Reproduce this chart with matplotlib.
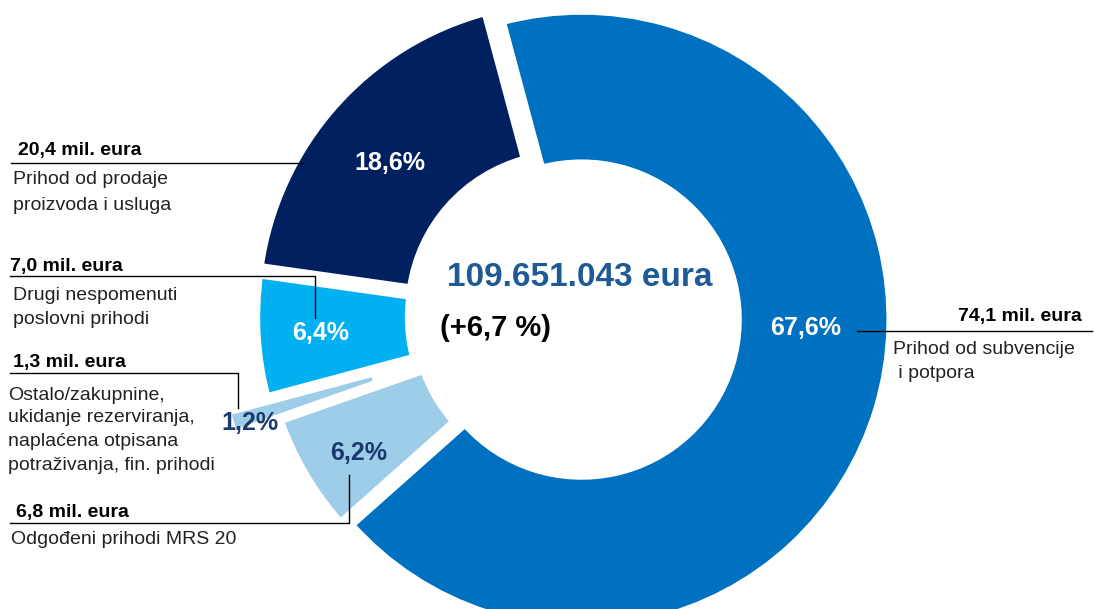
import matplotlib.pyplot as plt

plt.rcParams['font.family'] = ['Liberation Sans', 'DejaVu Sans']

W, H = 1094, 609

# data, in drawing order (clockwise from the top)
categories = ["Prihod od subvencije i potpora",
              "Odgođeni prihodi MRS 20",
              "Ostalo/zakupnine, ukidanje rezerviranja, naplaćena otpisana potraživanja, fin. prihodi",
              "Drugi nespomenuti poslovni prihodi",
              "Prihod od prodaje proizvoda i usluga"]
shares = [67.6, 6.2, 1.2, 6.4, 18.6]
share_labels = ["67,6%", "6,2%", "1,2%", "6,4%", "18,6%"]
amount_labels = ["74,1 mil. eura", "6,8 mil. eura", "1,3 mil. eura", "7,0 mil. eura", "20,4 mil. eura"]
desc_lines = [["Prihod od subvencije", " i potpora"],
              ["Odgođeni prihodi MRS 20"],
              ["Ostalo/zakupnine,", "ukidanje rezerviranja,", "naplaćena otpisana", "potraživanja, fin. prihodi"],
              ["Drugi nespomenuti", "poslovni prihodi"],
              ["Prihod od prodaje", "proizvoda i usluga"]]
total_label = "109.651.043 eura"
change_label = "(+6,7 %)"

# styling
colors = ["#0070C0", "#9DCDE8", "#9DCDE8", "#00B0F0", "#002060"]
pct_colors = ["white", "#1B3A6B", "#1B3A6B", "white", "white"]
explode = [9, 2, 50, 8, 10]


def Y(y):
    # picture rows run downwards, axes y runs upwards
    return H - y


fig = plt.figure(figsize=(W / 100, H / 100), dpi=100)
ax = fig.add_axes([0, 0, 1, 1])

ax.pie(shares, colors=colors, startangle=105, counterclock=False,
       explode=explode, radius=309, center=(573, Y(317)),
       wedgeprops=dict(width=153, edgecolor='white', linewidth=6))
ax.set_xlim(0, W)
ax.set_ylim(0, H)
ax.set_aspect('equal')
ax.axis('off')

# percentages on the ring
pct_pos = [(806, 328), (359, 453), (250, 423), (321, 333), (390, 163)]
for (x, y), lab, c in zip(pct_pos, share_labels, pct_colors):
    ax.text(x, Y(y), lab, color=c, fontsize=18, fontweight='bold',
            ha='center', va='center')

# centre text
ax.text(580, Y(277), total_label, color="#1D5A96", fontsize=24,
        fontweight='bold', ha='center', va='center')
ax.text(440, Y(328), change_label, color="black", fontsize=21,
        fontweight='bold', ha='left', va='center')

# leader lines
leaders = [
    [(857, 331), (1092, 331)],
    [(10, 523), (349, 523), (349, 475)],
    [(10, 373), (238, 373), (238, 408)],
    [(10, 276), (315, 276), (315, 318)],
    [(11, 163), (303, 163)],
]
for pts in leaders:
    ax.plot([p[0] for p in pts], [Y(p[1]) for p in pts], color='black', lw=1)

# outside labels: amount (bold) then description lines
label_pos = [
    (1082, 317, 'right', [(893, 350), (893, 373)]),
    (16, 513, 'left', [(11, 540)]),
    (13, 362, 'left', [(8, 395), (8, 418), (8, 442), (8, 466)]),
    (10, 267, 'left', [(13, 295), (13, 320)]),
    (18, 150, 'left', [(13, 180), (13, 206)]),
]
for amt, lines, (ax_x, ax_y, ha, line_pos) in zip(amount_labels, desc_lines, label_pos):
    ax.text(ax_x, Y(ax_y), amt, fontsize=14, fontweight='bold', ha=ha, va='center')
    for txt, (lx, ly) in zip(lines, line_pos):
        ax.text(lx, Y(ly), txt, fontsize=14, ha='left', va='center', color='#222222')

fig.savefig("out.png", dpi=100)
